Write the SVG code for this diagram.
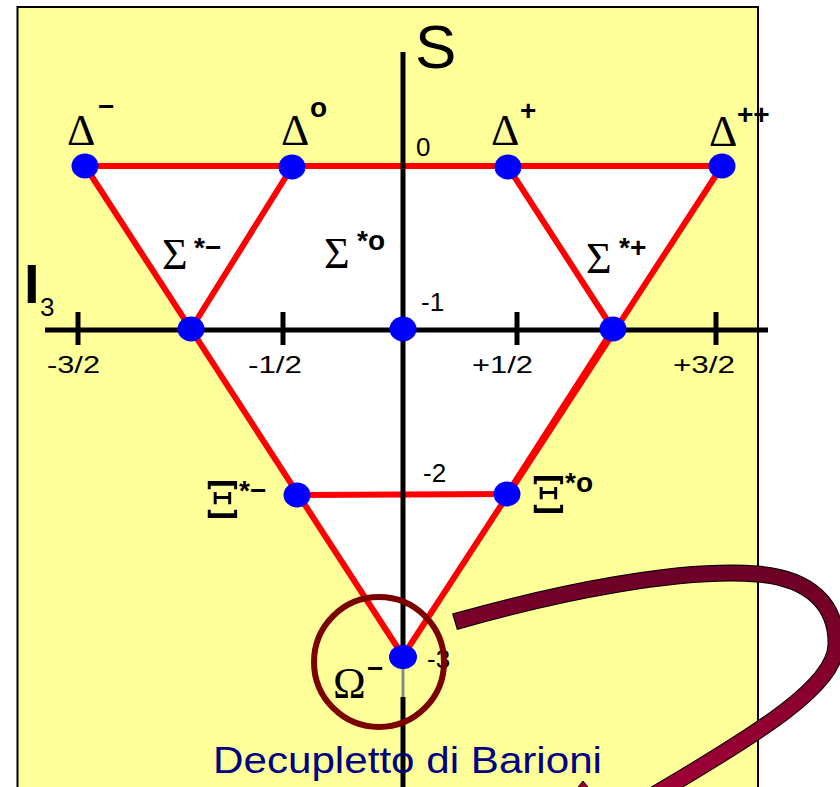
<svg xmlns="http://www.w3.org/2000/svg" width="840" height="787" viewBox="0 0 840 787">
<defs>
<style>
.red{stroke:#FF0000;stroke-width:6;stroke-linecap:round;fill:none}
.axis{stroke:#000;stroke-width:5;fill:none}
.node{fill:#0000FF}
.gr{font-family:"Liberation Serif","Times New Roman",serif;font-size:44px;fill:#000}
.xi{font-family:"DejaVu Serif","Liberation Serif",serif;font-size:50px;fill:#000}
.sup{font-family:"Liberation Sans",Arial,sans-serif;font-size:28px;font-weight:bold;fill:#000}
.num{font-family:"Liberation Sans",Arial,sans-serif;font-size:26px;fill:#000}
.tick{font-family:"Liberation Sans",Arial,sans-serif;font-size:24px;fill:#000}
</style>
<linearGradient id="rib" gradientUnits="userSpaceOnUse" x1="0" y1="565" x2="0" y2="790">
<stop offset="0" stop-color="#6B0026"/>
<stop offset="1" stop-color="#A00035"/>
</linearGradient>
</defs>
<rect x="17.5" y="7" width="740.5" height="800" fill="#FFFF99" stroke="#000" stroke-width="2"/>
<polygon points="85,166 722,166 403,656" fill="#FFFFFF"/>
<g id="connectors">
<line class="red" x1="85" y1="166" x2="722" y2="166"/>
<line class="red" x1="85" y1="166" x2="403" y2="656"/>
<line class="red" x1="722" y1="166" x2="403" y2="656"/>
<line class="red" x1="613" y1="329" x2="507" y2="494" stroke-width="9"/>
<line class="red" x1="292" y1="167" x2="191" y2="329"/>
<line class="red" x1="508" y1="167" x2="613" y2="329"/>
<line class="red" x1="297" y1="495" x2="507" y2="494"/>
</g>
<g id="axes">
<line class="axis" x1="403" y1="52" x2="403" y2="669"/>
<line x1="403" y1="669" x2="403" y2="697" stroke="#888" stroke-width="3"/>
<line class="axis" x1="403" y1="697" x2="403" y2="787"/>
<line class="axis" x1="45" y1="330" x2="768" y2="330"/>
<line class="axis" x1="78" y1="312" x2="78" y2="345"/>
<line class="axis" x1="283" y1="312" x2="283" y2="345"/>
<line class="axis" x1="517" y1="312" x2="517" y2="345"/>
<line class="axis" x1="716" y1="312" x2="716" y2="345"/>
<text x="415" y="68" font-family="'Liberation Sans',Arial,sans-serif" font-size="62" fill="#000">S</text>
<text x="24" y="303" font-family="'Liberation Sans',Arial,sans-serif" font-size="56" font-weight="bold" fill="#000">I</text>
<text x="40" y="316" font-family="'Liberation Sans',Arial,sans-serif" font-size="26" fill="#000">3</text>
<text class="num" x="416" y="156">0</text>
<text class="num" x="421" y="311">-1</text>
<text class="num" x="423" y="482">-2</text>
<text class="num" x="427" y="668">-3</text>
<text class="tick" x="47" y="373" textLength="53" lengthAdjust="spacingAndGlyphs">-3/2</text>
<text class="tick" x="248" y="373" textLength="54" lengthAdjust="spacingAndGlyphs">-1/2</text>
<text class="tick" x="472" y="373" textLength="61" lengthAdjust="spacingAndGlyphs">+1/2</text>
<text class="tick" x="673" y="373" textLength="62" lengthAdjust="spacingAndGlyphs">+3/2</text>
</g>
<g id="node-delta-minus">
<ellipse class="node" cx="85" cy="166" rx="13.5" ry="12.5"/>
<text class="gr" x="67" y="145">Δ</text>
<text class="sup" x="98" y="116" font-size="22">−</text>
</g>
<g id="node-delta-zero">
<ellipse class="node" cx="292" cy="167" rx="13.5" ry="12.5"/>
<text class="gr" x="281" y="145">Δ</text>
<text class="sup" x="310" y="117" font-size="22" font-weight="normal">o</text>
</g>
<g id="node-delta-plus">
<ellipse class="node" cx="508" cy="167" rx="13.5" ry="12.5"/>
<text class="gr" x="491" y="145">Δ</text>
<text class="sup" x="520" y="120" font-size="22">+</text>
</g>
<g id="node-delta-plusplus">
<ellipse class="node" cx="722" cy="166" rx="13.5" ry="12.5"/>
<text class="gr" x="709" y="146">Δ</text>
<text class="sup" x="737" y="124" font-size="24">++</text>
</g>
<g id="node-sigma-minus">
<ellipse class="node" cx="191" cy="329" rx="13.5" ry="12.5"/>
<text class="gr" x="162" y="269">Σ</text>
<text class="sup" x="194" y="257">*−</text>
</g>
<g id="node-sigma-zero">
<ellipse class="node" cx="403" cy="329" rx="13.5" ry="12.5"/>
<text class="gr" x="324" y="268">Σ</text>
<text class="sup" x="357" y="250">*o</text>
</g>
<g id="node-sigma-plus">
<ellipse class="node" cx="613" cy="329" rx="13.5" ry="12.5"/>
<text class="gr" x="586" y="273">Σ</text>
<text class="sup" x="619" y="257">*+</text>
</g>
<g id="node-xi-minus">
<ellipse class="node" cx="297" cy="495" rx="13.5" ry="12.5"/>
<text class="xi" x="205" y="518">Ξ</text>
<text class="sup" x="239" y="500">*−</text>
</g>
<g id="node-xi-zero">
<ellipse class="node" cx="507" cy="494" rx="13.5" ry="12.5"/>
<text class="xi" x="531" y="513">Ξ</text>
<text class="sup" x="565" y="492">*o</text>
</g>
<g id="node-omega-minus">
<ellipse class="node" cx="403" cy="657" rx="14" ry="12"/>
<text class="gr" x="333" y="698">Ω</text>
<text class="sup" x="367" y="678">−</text>
</g>
<g id="highlight">
<ellipse cx="379" cy="662" rx="65" ry="65" fill="none" stroke="#7B0000" stroke-width="6"/>
</g>
<text x="213" y="773" font-family="'Liberation Sans',Arial,sans-serif" font-size="36" fill="#000080" textLength="389" lengthAdjust="spacingAndGlyphs">Decupletto di Barioni</text>
<g id="ribbon-arrow">
<polygon points="574,792 583,781 592,792" fill="#A00035" stroke="#000" stroke-width="1"/>
<path d="M454.5,621.8 L455.5,621.5 C560,592 680,568 757,574 C810,578 837,605 836,645 C835,685 765,730 645,800" fill="none" stroke="#000" stroke-width="17"/>
<path d="M455.5,621.5 C560,592 680,568 757,574 C810,578 837,605 836,645 C835,685 765,730 645,800" fill="none" stroke="url(#rib)" stroke-width="15"/>
</g>
</svg>
